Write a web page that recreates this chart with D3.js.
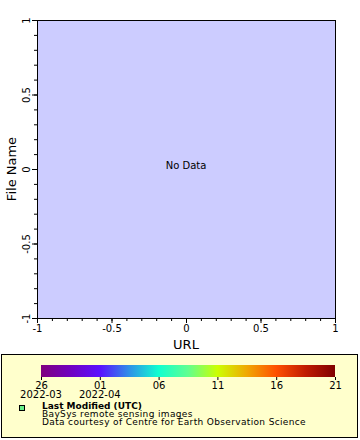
<!DOCTYPE html>
<html>
<head>
<meta charset="utf-8">
<script src="https://cdn.jsdelivr.net/npm/d3@7"></script>
<style>
  html, body { margin: 0; padding: 0; background: #fff; }
  svg { display: block; }
  text { font-family: "DejaVu Sans", sans-serif; fill: #000; }
</style>
</head>
<body>
<div id="chart"></div>
<script>
// axis domain and ticks
const xDomain = [-1, 1];
const yDomain = [-1, 1];
const majorTicks = [-1, -0.5, 0, 0.5, 1];
const minorTicks = d3.range(-10, 11).map(i => i / 10);
const xTitle = 'URL';
const yTitle = 'File Name';
const emptyText = 'No Data';

// colorbar (Last Modified, UTC)
const dayLabels = ['26', '01', '06', '11', '16', '21'];
const monthLabels = ['2022-03', '2022-04'];   // under first two day labels
const colorStops = [
  [0.00, '#7f007f'],
  [0.10, '#7000c0'],
  [0.20, '#5a10ff'],
  [0.30, '#2f90e8'],
  [0.40, '#10ffd0'],
  [0.50, '#60ff90'],
  [0.60, '#ccff00'],
  [0.70, '#f0a800'],
  [0.80, '#ff5000'],
  [0.90, '#c01c00'],
  [1.00, '#800000']
];
const legendTitle = 'Last Modified (UTC)';
const legendLines = ['BaySys remote sensing images', 'Data courtesy of Centre for Earth Observation Science'];

const W = 360, H = 440;
const svg = d3.select('#chart').append('svg').attr('width', W).attr('height', H);

const x = d3.scaleLinear().domain(xDomain).range([37, 335]);
const y = d3.scaleLinear().domain(yDomain).range([318, 20]);
const fmt = d => String(d);

// plot background
svg.append('rect')
  .attr('x', x(-1)).attr('y', y(1))
  .attr('width', x(1) - x(-1)).attr('height', y(-1) - y(1))
  .attr('fill', '#ccccff');

// minor ticks
const gxMinor = svg.append('g').attr('transform', `translate(0,${y(-1)})`)
  .call(d3.axisBottom(x).tickValues(minorTicks).tickSize(3).tickFormat(''));
const gyMinor = svg.append('g').attr('transform', `translate(${x(-1)},0)`)
  .call(d3.axisLeft(y).tickValues(minorTicks).tickSize(3).tickFormat(''));
[gxMinor, gyMinor].forEach(g => g.select('.domain').remove());

// major ticks
const gx = svg.append('g').attr('transform', `translate(0,${y(-1)})`)
  .call(d3.axisBottom(x).tickValues(majorTicks).tickSize(5).tickPadding(2).tickFormat(fmt));
const gy = svg.append('g').attr('transform', `translate(${x(-1)},0)`)
  .call(d3.axisLeft(y).tickValues(majorTicks).tickSize(5).tickPadding(2).tickFormat(fmt));
[gx, gy].forEach(g => {
  g.select('.domain').remove();
  g.selectAll('text').attr('font-family', '"DejaVu Sans", sans-serif').attr('font-size', 10);
});
gy.selectAll('.tick text')
  .attr('x', null).attr('dy', null)
  .attr('text-anchor', 'middle')
  .attr('transform', 'translate(-7,0) rotate(-90)');
svg.selectAll('.tick line').attr('stroke', '#000');

// plot frame
svg.append('rect')
  .attr('x', x(-1) + 0.5).attr('y', y(1) + 0.5)
  .attr('width', x(1) - x(-1)).attr('height', y(-1) - y(1))
  .attr('fill', 'none').attr('stroke', '#000');

svg.append('text')
  .attr('x', x(0)).attr('y', y(0))
  .attr('text-anchor', 'middle').attr('font-size', 10)
  .text(emptyText);

// axis titles
svg.append('text')
  .attr('x', x(0)).attr('y', 349)
  .attr('text-anchor', 'middle')
  .attr('font-family', '"Liberation Sans", Arial, sans-serif').attr('font-size', 13)
  .text(xTitle);
svg.append('text')
  .attr('transform', `translate(16,${y(0)}) rotate(-90)`)
  .attr('text-anchor', 'middle')
  .attr('font-family', '"Liberation Sans", Arial, sans-serif').attr('font-size', 13)
  .text(yTitle);

// legend box
svg.append('rect')
  .attr('x', 1.5).attr('y', 354.5).attr('width', 356).attr('height', 83)
  .attr('fill', '#ffffcc').attr('stroke', '#000');

const defs = svg.append('defs');
const grad = defs.append('linearGradient').attr('id', 'cbar')
  .attr('x1', '0%').attr('x2', '100%').attr('y1', '0%').attr('y2', '0%');
grad.selectAll('stop').data(colorStops).join('stop')
  .attr('offset', d => d[0] * 100 + '%')
  .attr('stop-color', d => d[1]);

const c = d3.scalePoint().domain(dayLabels).range([41, 335]);
svg.append('rect')
  .attr('x', 41).attr('y', 365).attr('width', 294).attr('height', 12)
  .attr('fill', 'url(#cbar)');

const gc = svg.append('g').attr('transform', 'translate(0,377)')
  .call(d3.axisBottom(c).tickSize(3).tickPadding(2));
gc.select('.domain').remove();
gc.selectAll('line').attr('stroke', '#000');
gc.selectAll('text').attr('font-family', '"DejaVu Sans", sans-serif').attr('font-size', 10);

svg.selectAll('text.month').data(monthLabels).join('text')
  .attr('class', 'month')
  .attr('x', (d, i) => c(dayLabels[i]))
  .attr('y', 398)
  .attr('text-anchor', 'middle').attr('font-size', 10)
  .text(d => d);

// legend entry
svg.append('rect')
  .attr('x', 19.5).attr('y', 405.5).attr('width', 5).attr('height', 5)
  .attr('fill', '#66ee88').attr('stroke', '#000');
svg.append('text')
  .attr('x', 42).attr('y', 409)
  .attr('font-size', 9).attr('font-weight', 'bold')
  .text(legendTitle);
svg.selectAll('text.note').data(legendLines).join('text')
  .attr('class', 'note')
  .attr('x', 42).attr('y', (d, i) => 416.5 + i * 8)
  .attr('font-size', 9).attr('letter-spacing', 0.35)
  .text(d => d);
</script>
</body>
</html>
